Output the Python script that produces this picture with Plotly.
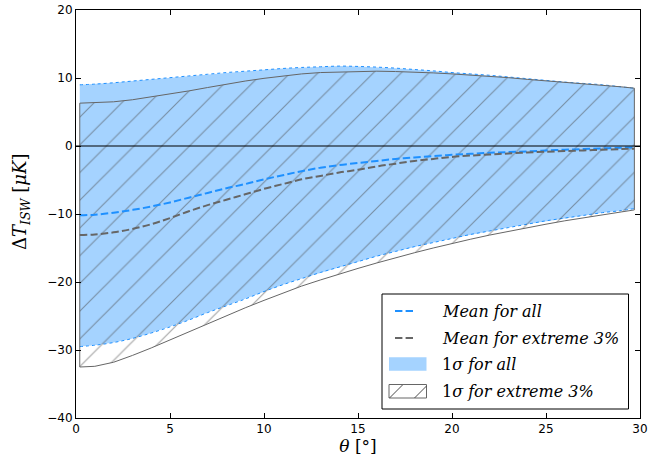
import plotly.graph_objects as go

theta = [0.2, 1, 2, 3, 4, 5, 6, 7, 8, 9, 10, 11, 12, 13, 14, 15, 16, 17, 18, 19,
         20, 21, 22, 23, 24, 25, 26, 27, 28, 29, 29.7]

mean_all = [-10.2, -10.1, -9.8, -9.4, -8.9, -8.3, -7.6, -6.9, -6.2, -5.6, -4.9, -4.3,
            -3.7, -3.2, -2.8, -2.5, -2.2, -1.9, -1.7, -1.5, -1.3, -1.15, -1.0, -0.9,
            -0.8, -0.65, -0.55, -0.45, -0.35, -0.25, -0.2]
mean_ext = [-13.1, -13.0, -12.7, -12.2, -11.5, -10.6, -9.6, -8.7, -7.9, -7.1, -6.3, -5.6,
            -4.9, -4.4, -3.9, -3.5, -3.0, -2.6, -2.2, -1.9, -1.6, -1.4, -1.25, -1.1,
            -0.95, -0.85, -0.75, -0.65, -0.55, -0.45, -0.4]

all_hi = [9.0, 9.1, 9.3, 9.55, 9.8, 10.05, 10.3, 10.55, 10.8, 11.0, 11.2, 11.4, 11.55,
          11.65, 11.75, 11.7, 11.6, 11.45, 11.25, 11.05, 10.8, 10.6, 10.4, 10.15, 9.9,
          9.65, 9.4, 9.2, 9.0, 8.7, 8.5]
all_lo = [-29.5, -29.3, -28.9, -28.3, -27.5, -26.6, -25.6, -24.5, -23.5, -22.5, -21.4,
          -20.4, -19.5, -18.6, -17.8, -17.0, -16.2, -15.5, -14.8, -14.2, -13.6, -13.0,
          -12.5, -12.0, -11.5, -11.0, -10.6, -10.2, -9.8, -9.5, -9.2]

ext_hi = [6.3, 6.35, 6.5, 6.8, 7.2, 7.6, 8.1, 8.6, 9.1, 9.55, 9.95, 10.3, 10.6, 10.8,
          10.9, 10.95, 11.0, 10.95, 10.9, 10.75, 10.6, 10.45, 10.25, 10.05, 9.8, 9.6,
          9.35, 9.15, 8.95, 8.7, 8.5]
ext_lo = [-32.5, -32.4, -31.8, -30.8, -29.7, -28.6, -27.4, -26.2, -25.0, -23.8, -22.7,
          -21.6, -20.6, -19.7, -18.8, -18.0, -17.2, -16.4, -15.7, -15.0, -14.3, -13.7,
          -13.1, -12.5, -12.0, -11.5, -11.0, -10.5, -10.1, -9.7, -9.4]

x_ticks = [0, 5, 10, 15, 20, 25, 30]
y_ticks = [-40, -30, -20, -10, 0, 10, 20]
legend_labels = ["<i>Mean for all</i>", "<i>Mean for extreme 3%</i>",
                 "1<i>σ for all</i>", "1<i>σ for extreme 3%</i>"]

BLUE = "#1e90ff"
FILL_BLUE = "#a5d3ff"
GRAY = "#666666"
HATCH = "#4a4a4a"
SERIF = "DejaVu Serif"
DASH = "7.4px,3.2px"

W, H = 659, 464
ML, MR, MT, MB = 76, 19, 10, 46
PW, PH = W - ML - MR, H - MT - MB


def px(xp):
    return (xp - ML) / PW


def py(yp):
    return (H - MB - yp) / PH


fig = go.Figure()

# 1 sigma for all: blue filled band with dotted edges
fig.add_trace(go.Scatter(
    x=theta + theta[::-1], y=all_hi + all_lo[::-1],
    fill="toself", fillcolor=FILL_BLUE, mode="lines",
    line=dict(width=0, color=FILL_BLUE), showlegend=False, hoverinfo="skip"))
fig.add_trace(go.Scatter(x=theta, y=all_hi, mode="lines", showlegend=False,
                         line=dict(color=BLUE, width=1, dash="dot", shape="spline"),
                         hoverinfo="skip"))
fig.add_trace(go.Scatter(x=theta, y=all_lo, mode="lines", showlegend=False,
                         line=dict(color=BLUE, width=1, dash="dot", shape="spline"),
                         hoverinfo="skip"))

# 1 sigma for extreme 3%: hatched band
fig.add_trace(go.Scatter(
    x=theta + theta[::-1] + [theta[0]], y=ext_hi + ext_lo[::-1] + [ext_hi[0]],
    fill="toself", fillcolor="rgba(0,0,0,0)", mode="lines",
    fillpattern=dict(shape="/", size=19.6, solidity=0.06, fgcolor=HATCH,
                     bgcolor="rgba(0,0,0,0)"),
    line=dict(width=1, color=GRAY), showlegend=False, hoverinfo="skip"))

# zero line
fig.add_shape(type="line", xref="paper", x0=0, x1=1, yref="y", y0=0, y1=0,
              line=dict(color="black", width=1.2), layer="above")

# means
fig.add_trace(go.Scatter(x=theta, y=mean_all, mode="lines", showlegend=False,
                         line=dict(color=BLUE, width=2, dash=DASH, shape="spline")))
fig.add_trace(go.Scatter(x=theta, y=mean_ext, mode="lines", showlegend=False,
                         line=dict(color=GRAY, width=2, dash=DASH, shape="spline")))

# ---- legend drawn by hand (paper coordinates) ----
shapes = []
annotations = []
# box
shapes.append(dict(type="rect", xref="paper", yref="paper",
                   x0=px(382), x1=px(628.5), y0=py(409), y1=py(294),
                   line=dict(color="black", width=1), fillcolor="white", layer="above"))
row_y = [311, 338, 364, 391]
# dashed swatches
for yy, col in zip(row_y[:2], [BLUE, GRAY]):
    shapes.append(dict(type="line", xref="paper", yref="paper",
                       x0=px(395), x1=px(414), y0=py(yy), y1=py(yy),
                       line=dict(color=col, width=2, dash=DASH), layer="above"))
# filled swatch
shapes.append(dict(type="rect", xref="paper", yref="paper",
                   x0=px(389), x1=px(426.5), y0=py(370.7), y1=py(357.3),
                   line=dict(width=0), fillcolor=FILL_BLUE, layer="above"))
# hatched swatch
shapes.append(dict(type="rect", xref="paper", yref="paper",
                   x0=px(389), x1=px(426.5), y0=py(398), y1=py(384.5),
                   line=dict(color=GRAY, width=1), fillcolor="rgba(0,0,0,0)",
                   layer="above"))
for (xa, ya, xb, yb) in [(389.5, 398, 402.5, 385), (414.5, 398, 426.5, 386)]:
    shapes.append(dict(type="line", xref="paper", yref="paper",
                       x0=px(xa), x1=px(xb), y0=py(ya), y1=py(yb),
                       line=dict(color=HATCH, width=1), layer="above"))
for yy, lab in zip(row_y, legend_labels):
    annotations.append(dict(xref="paper", yref="paper", x=px(440), y=py(yy),
                            xanchor="left", yanchor="middle", showarrow=False,
                            text=lab, font=dict(family=SERIF, size=16, color="black")))

# y-axis title as annotation for precise placement
annotations.append(dict(xref="paper", yref="paper", x=px(21), y=py(202),
                        xanchor="center", yanchor="middle", showarrow=False,
                        textangle=-90,
                        text="Δ<i>T</i><sub><i>ISW</i></sub> [<i>μK</i>]",
                        font=dict(family=SERIF, size=18, color="black")))

axis_common = dict(showline=True, linecolor="black", linewidth=1, mirror="ticks",
                   ticks="inside", ticklen=5, tickwidth=1, tickcolor="black",
                   showgrid=False, zeroline=False, automargin=False,
                   tickfont=dict(family="DejaVu Sans", size=12, color="black"))

fig.update_xaxes(range=[0, 30], tickvals=x_ticks,
                 title=dict(text="<i>θ</i> [°]",
                            font=dict(family=SERIF, size=17, color="black"),
                            standoff=4),
                 **axis_common)
fig.update_yaxes(range=[-40, 20], tickvals=y_ticks,
                 ticktext=[str(v).replace("-", "−") for v in y_ticks],
                 **axis_common)

fig.update_layout(
    width=W, height=H,
    margin=dict(l=ML, r=MR, t=MT, b=MB),
    plot_bgcolor="white", paper_bgcolor="white",
    showlegend=False,
    shapes=fig.layout.shapes + tuple(shapes),
    annotations=annotations,
)

fig.write_html("out.html")
